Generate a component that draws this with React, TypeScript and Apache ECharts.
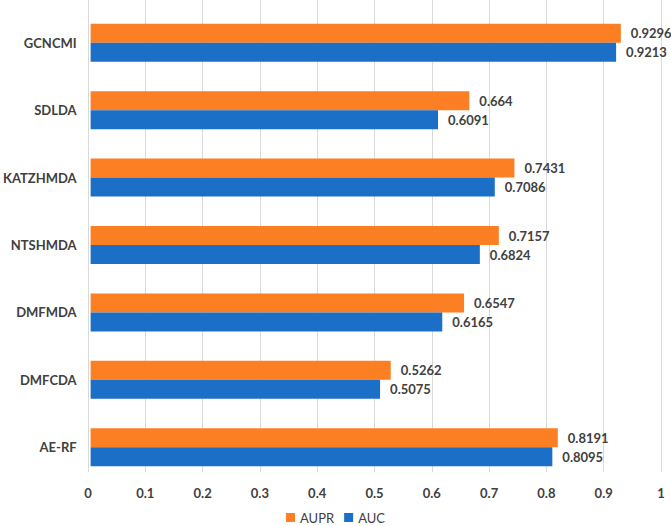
import React, { useEffect, useRef } from "react";
import * as echarts from "echarts";

const categories = ["GCNCMI", "SDLDA", "KATZHMDA", "NTSHMDA", "DMFMDA", "DMFCDA", "AE-RF"];
const auprValues = [0.9296, 0.664, 0.7431, 0.7157, 0.6547, 0.5262, 0.8191];
const aucValues = [0.9213, 0.6091, 0.7086, 0.6824, 0.6165, 0.5075, 0.8095];
const xTicks = [0, 0.1, 0.2, 0.3, 0.4, 0.5, 0.6, 0.7, 0.8, 0.9, 1];

const FONT = "Lato, 'Open Sans', sans-serif";
const TXT = "#404040";

export default function App() {
  const ref = useRef<HTMLDivElement>(null);
  useEffect(() => {
    if (!ref.current) return;
    const chart = echarts.init(ref.current, undefined, { renderer: "svg" });
    const labelCfg = {
      show: true,
      position: "right",
      distance: 10,
      color: TXT,
      fontFamily: FONT,
      fontWeight: "bold",
      fontSize: 13,
      formatter: (p: any) => String(p.value),
    };
    chart.setOption({
      animation: false,
      backgroundColor: "#ffffff",
      legend: {
        data: ["AUPR", "AUC"],
        top: 511,
        left: "center",
        itemWidth: 9,
        itemHeight: 9,
        itemGap: 10,
        icon: "rect",
        padding: 0,
        textStyle: { color: TXT, fontFamily: FONT, fontSize: 13 },
      },
      grid: [
        { left: 88, right: 10, top: 9, bottom: 45 },
        { left: 88, right: 10, top: 0, bottom: 54 },
      ],
      xAxis: [
        {
          gridIndex: 0,
          type: "value",
          min: 0,
          max: 1,
          interval: 0.1,
          show: false,
        },
        {
          gridIndex: 1,
          type: "value",
          min: 0,
          max: 1,
          interval: 0.1,
          axisLine: { show: false },
          axisTick: { show: false },
          splitLine: { show: true, lineStyle: { color: "#d9d9d9", width: 1 } },
          axisLabel: {
            color: TXT,
            fontFamily: FONT,
            fontWeight: "bold",
            fontSize: 13,
            margin: 14,
            formatter: (v: number) => {
              const t = xTicks.find((x) => Math.abs(x - v) < 1e-9);
              return t === undefined ? "" : String(t);
            },
          },
        },
      ],
      yAxis: [
        {
          gridIndex: 0,
          type: "category",
          data: categories,
          inverse: true,
          axisLine: { show: false },
          axisTick: { show: false },
          splitLine: { show: false },
          axisLabel: {
            color: TXT,
            fontFamily: FONT,
            fontWeight: "bold",
            fontSize: 13,
            margin: 14,
          },
        },
        {
          gridIndex: 1,
          type: "category",
          data: categories,
          show: false,
        },
      ],
      series: [
        {
          name: "AUPR",
          type: "bar",
          xAxisIndex: 0,
          yAxisIndex: 0,
          data: auprValues,
          barWidth: 19,
          barGap: "0%",
          itemStyle: { color: "#FD7F24" },
          label: labelCfg,
        },
        {
          name: "AUC",
          type: "bar",
          xAxisIndex: 0,
          yAxisIndex: 0,
          data: aucValues,
          barWidth: 19,
          barGap: "0%",
          itemStyle: { color: "#1C6FC6" },
          label: labelCfg,
        },
      ],
    });
    return () => chart.dispose();
  }, []);
  return <div ref={ref} style={{ width: 671, height: 526, position: "absolute", left: 0, top: 0 }} />;
}
